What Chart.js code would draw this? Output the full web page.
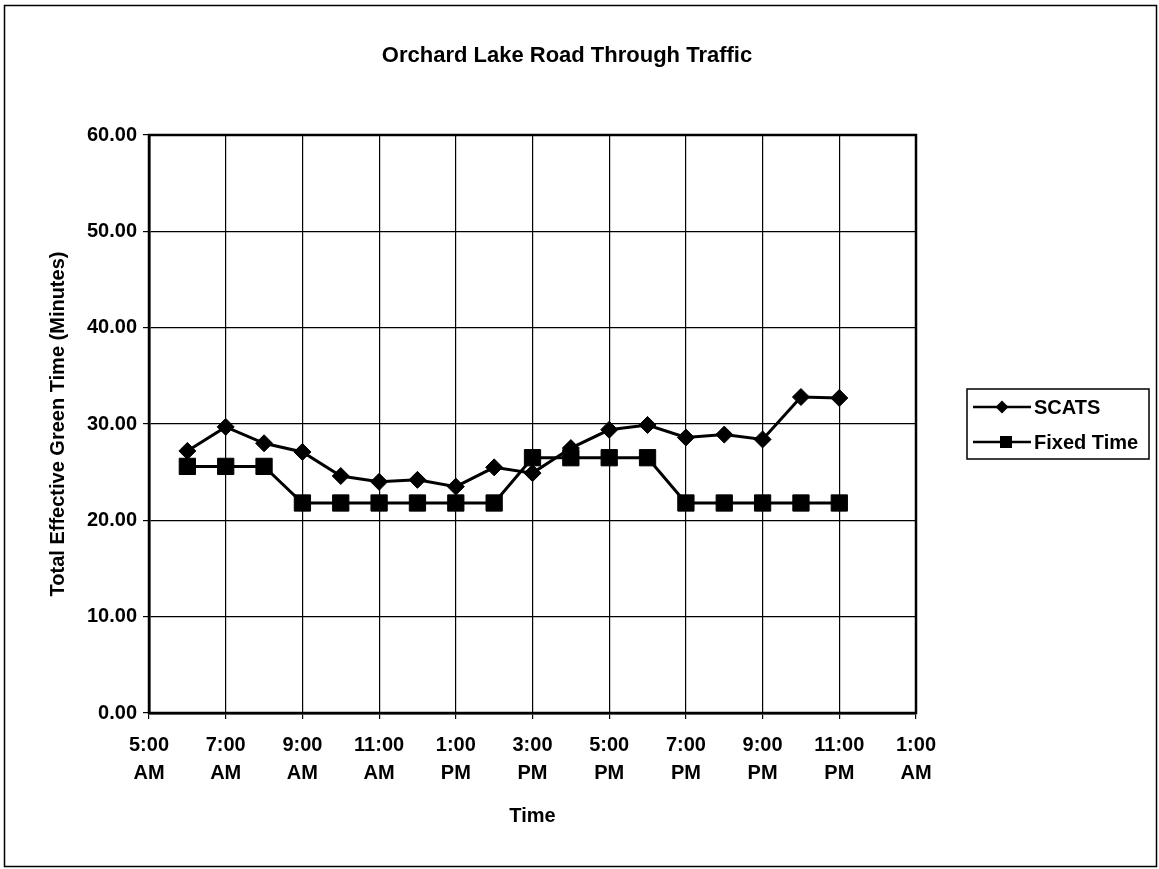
<!DOCTYPE html>
<html>
<head>
<meta charset="utf-8">
<script src="https://cdn.jsdelivr.net/npm/chart.js@4/dist/chart.umd.min.js"></script>
<style>
  html, body { margin: 0; padding: 0; background: #fff; }
  #wrap { width: 1159px; height: 869px; position: relative; }
</style>
</head>
<body>
<div id="wrap"><canvas id="c"></canvas></div>
<script>
// ---- data ----
const hours = [6, 7, 8, 9, 10, 11, 12, 13, 14, 15, 16, 17, 18, 19, 20, 21, 22, 23];
const scats = [27.2, 29.7, 28.0, 27.1, 24.6, 24.0, 24.2, 23.5, 25.5, 24.9, 27.5, 29.4, 29.9, 28.6, 28.9, 28.4, 32.8, 32.7];
const fixedTime = [25.6, 25.6, 25.6, 21.8, 21.8, 21.8, 21.8, 21.8, 21.8, 26.5, 26.5, 26.5, 26.5, 21.8, 21.8, 21.8, 21.8, 21.8];
const xTickLabels = [
  ["5:00", "AM"], ["7:00", "AM"], ["9:00", "AM"], ["11:00", "AM"], ["1:00", "PM"], ["3:00", "PM"],
  ["5:00", "PM"], ["7:00", "PM"], ["9:00", "PM"], ["11:00", "PM"], ["1:00", "AM"]
];
const seriesNames = ["SCATS", "Fixed Time"];
const chartTitle = "Orchard Lake Road Through Traffic";
const xTitle = "Time";
const yTitle = "Total Effective Green Time (Minutes)";

const FONT = "'Liberation Sans', Arial, sans-serif";

const framePlugin = {
  id: 'frame',
  beforeDraw(chart) {
    const ctx = chart.ctx;
    ctx.save();
    ctx.fillStyle = '#fff';
    ctx.fillRect(0, 0, chart.width, chart.height);
    ctx.strokeStyle = '#000';
    ctx.lineWidth = 1.5;
    ctx.strokeRect(4.5, 5.5, 1152, 861);
    // chart title, centred on the whole chart
    ctx.fillStyle = '#000';
    ctx.font = "bold 22px " + FONT;
    ctx.textAlign = 'center';
    ctx.textBaseline = 'middle';
    ctx.fillText(chartTitle, 567, 56);
    ctx.restore();
  },
  afterDatasetsDraw(chart) {
    const {ctx, chartArea: a} = chart;
    ctx.save();
    ctx.strokeStyle = '#000';
    ctx.lineWidth = 2.5;
    ctx.strokeRect(a.left, a.top, a.right - a.left, a.bottom - a.top);
    ctx.restore();
  },
  afterDraw(chart) {
    // legend box
    const ctx = chart.ctx;
    ctx.save();
    ctx.strokeStyle = '#000';
    ctx.lineWidth = 1.5;
    ctx.strokeRect(967, 389, 182, 70);
    const rows = [407, 442];
    chart.data.datasets.forEach((ds, i) => {
      const y = rows[i];
      ctx.strokeStyle = '#000';
      ctx.lineWidth = 2.5;
      ctx.beginPath();
      ctx.moveTo(973, y);
      ctx.lineTo(1031, y);
      ctx.stroke();
      ctx.fillStyle = '#000';
      ctx.beginPath();
      if (ds.pointStyle === 'rectRot') {
        ctx.moveTo(1002 - 6.5, y); ctx.lineTo(1002, y - 6.5); ctx.lineTo(1002 + 6.5, y); ctx.lineTo(1002, y + 6.5);
      } else {
        ctx.rect(1006 - 6, y - 6, 12, 12);
      }
      ctx.closePath();
      ctx.fill();
      ctx.font = "bold 20px " + FONT;
      ctx.textBaseline = 'middle';
      ctx.textAlign = 'left';
      ctx.fillText(ds.label, 1034, y + 1);
    });
    ctx.restore();
  }
};

new Chart(document.getElementById('c'), {
  type: 'line',
  data: {
    datasets: [
      {
        label: seriesNames[0],
        data: hours.map((h, i) => ({x: h, y: scats[i]})),
        borderColor: '#000', backgroundColor: '#000',
        borderWidth: 3, pointStyle: 'rectRot', pointRadius: 8.5,
        pointBorderWidth: 1, pointBackgroundColor: '#000', pointBorderColor: '#000',
        tension: 0
      },
      {
        label: seriesNames[1],
        data: hours.map((h, i) => ({x: h, y: fixedTime[i]})),
        borderColor: '#000', backgroundColor: '#000',
        borderWidth: 3, pointStyle: 'rect', pointRadius: 11.5,
        pointBorderWidth: 1, pointBackgroundColor: '#000', pointBorderColor: '#000',
        tension: 0
      }
    ]
  },
  options: {
    responsive: true,
    maintainAspectRatio: false,
    animation: false,
    layout: { padding: { top: 135, right: 243, bottom: 0, left: 0 } },
    plugins: {
      legend: { display: false },
      tooltip: { enabled: false },
      title: { display: false }
    },
    scales: {
      x: {
        type: 'linear',
        min: 5, max: 25,
        afterFit(scale) { scale.height = 156; },
        ticks: {
          stepSize: 2,
          autoSkip: false,
          maxRotation: 0,
          color: '#000',
          padding: 12,
          font: { family: FONT, size: 20, weight: 'bold', lineHeight: 1.4 },
          callback: (v) => xTickLabels[Math.round((v - 5) / 2)]
        },
        grid: { color: '#000', lineWidth: 1.2, tickLength: 6, drawTicks: true },
        border: { display: true, color: '#000', width: 2.5 },
        title: {
          display: true, text: xTitle, color: '#000',
          font: { family: FONT, size: 20, weight: 'bold', lineHeight: 1.2 },
          padding: { top: 0, bottom: 41 }
        }
      },
      y: {
        min: 0, max: 60,
        afterFit(scale) { scale.width = 149; },
        ticks: {
          stepSize: 10,
          color: '#000',
          padding: 6,
          font: { family: FONT, size: 20, weight: 'bold' },
          callback: (v) => v.toFixed(2)
        },
        grid: { color: '#000', lineWidth: 1.2, tickLength: 6 },
        border: { display: true, color: '#000', width: 2.5 },
        title: {
          display: true, text: yTitle, color: '#000',
          font: { family: FONT, size: 20, weight: 'bold', lineHeight: 1.2 },
          padding: { top: 46, bottom: 0 }
        }
      }
    }
  },
  plugins: [framePlugin]
});
</script>
</body>
</html>
